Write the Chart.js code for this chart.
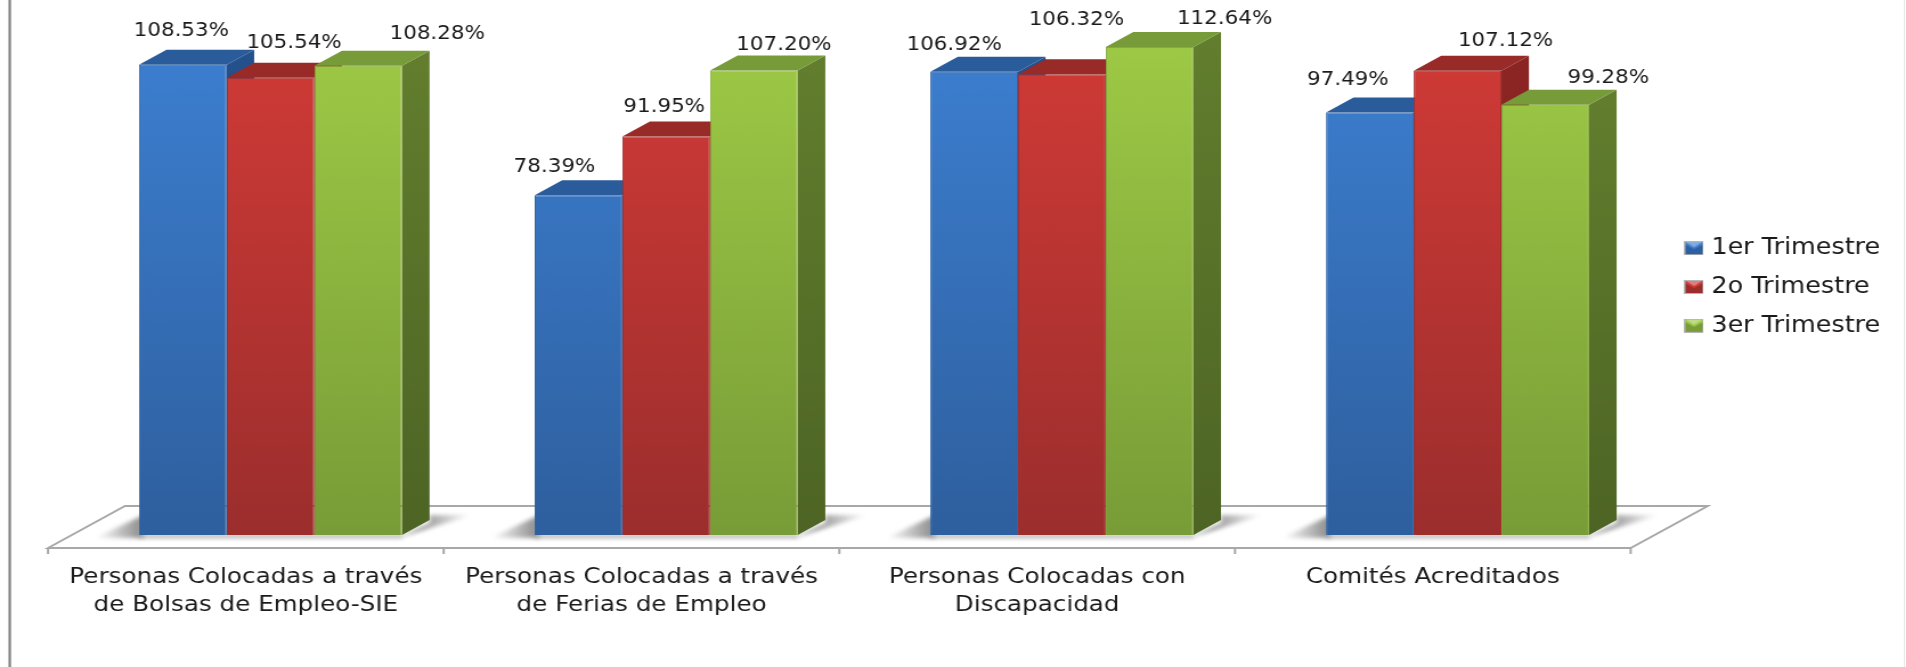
<!DOCTYPE html>
<html>
<head>
<meta charset="utf-8">
<script src="https://cdn.jsdelivr.net/npm/chart.js@4"></script>
<style>
    html, body { margin: 0; padding: 0; background: #fff; overflow: hidden; }
    #wrap { width: 1906px; height: 667px; overflow: hidden; }
    /* the reference is a picture stretched sideways, so the canvas is too */
    #chart { transform-origin: 0 0; }
</style>
</head>
<body>
<div id="wrap"><canvas id="chart"></canvas></div>
<script>
//data
const categories = [
    ['Personas Colocadas a través', 'de Bolsas de Empleo-SIE'],
    ['Personas Colocadas a través', 'de Ferias de Empleo'],
    ['Personas Colocadas con', 'Discapacidad'],
    ['Comités Acreditados']
]
const seriesNames = ['1er Trimestre', '2o Trimestre', '3er Trimestre']
const trimestre1 = [108.53, 78.39, 106.92, 97.49]
const trimestre2 = [105.54, 91.95, 106.32, 107.12]
const trimestre3 = [108.28, 107.20, 112.64, 99.28]

//config color: [front top, front bottom, top face, side top, side bottom, edge]
const colors = [
    ['#3c7ecf', '#2e5f9e', '#2a5b9b', '#24518c', '#1f4578', '#2f64a8'],
    ['#cf3a36', '#9b2e2d', '#982a28', '#8b2523', '#742020', '#a52f2d'],
    ['#9cc845', '#789c37', '#779b38', '#617d2d', '#4d6424', '#86aa3d']
]

//horizontal stretch of the whole picture
const S = 1.14
const W = 1906 / S
const H = 667
const px = v => v / S

//data label offsets from the bar's top centre, per series and category
const nudgeX = [[-1.5, -24, -20, -22], [23.5, -2, 14.5, 48], [79, 30, 75, 63]]
const nudgeY = [[-33.5, -28.5, -26.5, -32.5], [-34.5, -29.5, -54.5, -29.5], [-31.5, -25.5, -27.5, -26.5]]

const depthX = px(27.5)
const depthY = 15
const shift = px(24.7)

function frontGradient(i){
    return function(ctx){
        const area = ctx.chart.chartArea
        if(!area) return colors[i][0]
        const g = ctx.chart.ctx.createLinearGradient(0, area.top + 40, 0, area.bottom)
        g.addColorStop(0, colors[i][0])
        g.addColorStop(1, colors[i][1])
        return g
    }
}

function makeSwatch(i){
    const c = document.createElement('canvas')
    c.width = 17
    c.height = 14
    const x = c.getContext('2d')
    x.fillStyle = colors[i][0]
    x.fillRect(0, 0, 17, 14)
    x.fillStyle = 'rgba(255,255,255,0.35)'
    x.beginPath()
    x.moveTo(0, 0); x.lineTo(17, 0); x.lineTo(8.5, 6); x.closePath()
    x.fill()
    x.fillStyle = colors[i][1]
    x.beginPath()
    x.moveTo(0, 14); x.lineTo(17, 14); x.lineTo(17, 3); x.lineTo(8.5, 8); x.lineTo(0, 3); x.closePath()
    x.fill()
    x.strokeStyle = '#b5b5b5'
    x.strokeRect(0.5, 0.5, 16, 13)
    return c
}
const swatches = [makeSwatch(0), makeSwatch(1), makeSwatch(2)]

function poly(ctx, pts, fill){
    ctx.fillStyle = fill
    ctx.beginPath()
    pts.forEach((p, i) => i ? ctx.lineTo(p[0], p[1]) : ctx.moveTo(p[0], p[1]))
    ctx.closePath()
    ctx.fill()
}

function drawFloor(chart){
    const ctx = chart.ctx
    const a = chart.chartArea
    const fl = a.left - shift, fr = a.right - shift
    const fy = a.bottom + 13, by = a.bottom - 29, dx = px(77)
    ctx.save()
    ctx.strokeStyle = '#a8a8a8'
    ctx.lineWidth = 2
    ctx.beginPath()
    ctx.moveTo(fl, fy); ctx.lineTo(fl + dx, by); ctx.lineTo(fr + dx, by); ctx.lineTo(fr, fy); ctx.closePath()
    ctx.stroke()
    const band = (fr - fl) / categories.length
    ctx.beginPath()
    for(let i = 0; i <= categories.length; i++){
        ctx.moveTo(fl + band * i, fy)
        ctx.lineTo(fl + band * i, fy + 6)
    }
    ctx.stroke()

    //soft shadows behind each group
    const first = chart.getDatasetMeta(0).data
    const last = chart.getDatasetMeta(2).data
    const b = a.bottom
    ctx.filter = 'blur(2px)'
    first.forEach((bar, i) => {
        const L = bar.x - bar.width / 2
        const R = last[i].x + last[i].width / 2
        let g = ctx.createLinearGradient(L - px(44), 0, L, 0)
        g.addColorStop(0, 'rgba(120,120,120,0)')
        g.addColorStop(1, 'rgba(110,110,110,0.75)')
        poly(ctx, [[L - px(44), b + 3], [L + 4, b + 3], [L + 4, b - 20]], g)
        g = ctx.createLinearGradient(R + depthX - px(8), 0, R + px(70), 0)
        g.addColorStop(0, 'rgba(110,110,110,0.75)')
        g.addColorStop(1, 'rgba(120,120,120,0)')
        poly(ctx, [[R - 4, b + 3], [R + depthX, b - depthY + 3], [R + depthX, b - 20], [R + px(70), b - 20]], g)
        ctx.fillStyle = '#a3a3a3'
        ctx.fillRect(L, b, R - L, 3)
    })
    ctx.filter = 'none'
    ctx.restore()
}

//side and top faces, fronts are the library's own bars
const boxFaces = {
    id: 'boxFaces',
    afterLayout(chart){
        const lg = chart.legend
        const move = 287 - (lg.top + lg.bottom) / 2
        lg.top += move
        lg.bottom += move
        const labels = lg.options.labels
        const left = px(1694) - labels.boxWidth / 2 - labels.padding
        lg.right += left - lg.left
        lg.left = left
    },
    beforeDraw(chart){
        const ctx = chart.ctx
        ctx.save()
        ctx.fillStyle = '#808080'
        ctx.fillRect(px(8.5), 0, px(2.5), H)
        ctx.fillStyle = '#c8c8c8'
        ctx.fillRect(px(1904.5), 0, px(1.5), H)
        ctx.restore()
    },
    beforeDatasetsDraw(chart){
        drawFloor(chart)
        const ctx = chart.ctx
        ctx.save()
        categories.forEach((c, j) => {
            colors.forEach((col, i) => {
                const bar = chart.getDatasetMeta(i).data[j]
                const l = bar.x - bar.width / 2, r = bar.x + bar.width / 2
                const g = ctx.createLinearGradient(0, bar.y, 0, bar.base)
                g.addColorStop(0, col[3])
                g.addColorStop(1, col[4])
                poly(ctx, [[r, bar.y], [r + depthX, bar.y - depthY], [r + depthX, bar.base - depthY], [r, bar.base]], g)
                poly(ctx, [[l, bar.y], [l + depthX, bar.y - depthY], [r + depthX, bar.y - depthY], [r, bar.y]], col[2])
            })
        })
        ctx.restore()
    },
    afterDatasetsDraw(chart){
        const ctx = chart.ctx
        ctx.save()
        ctx.font = '18.8px "DejaVu Sans"'
        ctx.fillStyle = '#1a1a1a'
        ctx.textAlign = 'center'
        ctx.textBaseline = 'middle'
        chart.data.datasets.forEach((ds, i) => {
            chart.getDatasetMeta(i).data.forEach((bar, j) => {
                ctx.fillText(ds.data[j].toFixed(2) + '%', bar.x + px(nudgeX[i][j]), bar.y + nudgeY[i][j])
            })
        })
        ctx.restore()
    }
}

const canvas = document.getElementById('chart')
canvas.width = W
canvas.height = H

const myChart = new Chart(canvas.getContext('2d'), {
    type: 'bar',
    data: {
        labels: categories,
        datasets: [
            { label: seriesNames[0], data: trimestre1, backgroundColor: frontGradient(0), borderColor: colors[0][5], borderWidth: 1 },
            { label: seriesNames[1], data: trimestre2, backgroundColor: frontGradient(1), borderColor: colors[1][5], borderWidth: 1 },
            { label: seriesNames[2], data: trimestre3, backgroundColor: frontGradient(2), borderColor: colors[2][5], borderWidth: 1 }
        ]
    },
    plugins: [boxFaces],
    options: {
        responsive: false,
        animation: false,
        devicePixelRatio: 1,
        layout: { padding: { left: px(72.7), right: 25, top: 15, bottom: 0 } },
        datasets: { bar: { categoryPercentage: 0.665, barPercentage: 1 } },
        scales: {
            y: { display: false, min: 0, max: 120 },
            x: {
                grid: { display: false, drawTicks: false },
                border: { display: false },
                afterFit(scale){ scale.height = 132 },
                ticks: {
                    color: '#1a1a1a',
                    font: { family: '"DejaVu Sans"', size: 21.6, lineHeight: 1.3 },
                    padding: 28,
                    labelOffset: -shift,
                    maxRotation: 0,
                    autoSkip: false
                }
            }
        },
        plugins: {
            tooltip: { enabled: false },
            legend: {
                position: 'right',
                labels: {
                    color: '#1a1a1a',
                    font: { family: '"DejaVu Sans"', size: 22.3 },
                    padding: 16.5,
                    boxWidth: 8.2,
                    usePointStyle: true,
                    generateLabels(chart){
                        const items = Chart.defaults.plugins.legend.labels.generateLabels(chart)
                        items.forEach((item, i) => { item.pointStyle = swatches[i] })
                        return items
                    }
                }
            }
        }
    }
});

canvas.style.transform = 'scaleX(' + S + ')'
</script>
</body>
</html>
